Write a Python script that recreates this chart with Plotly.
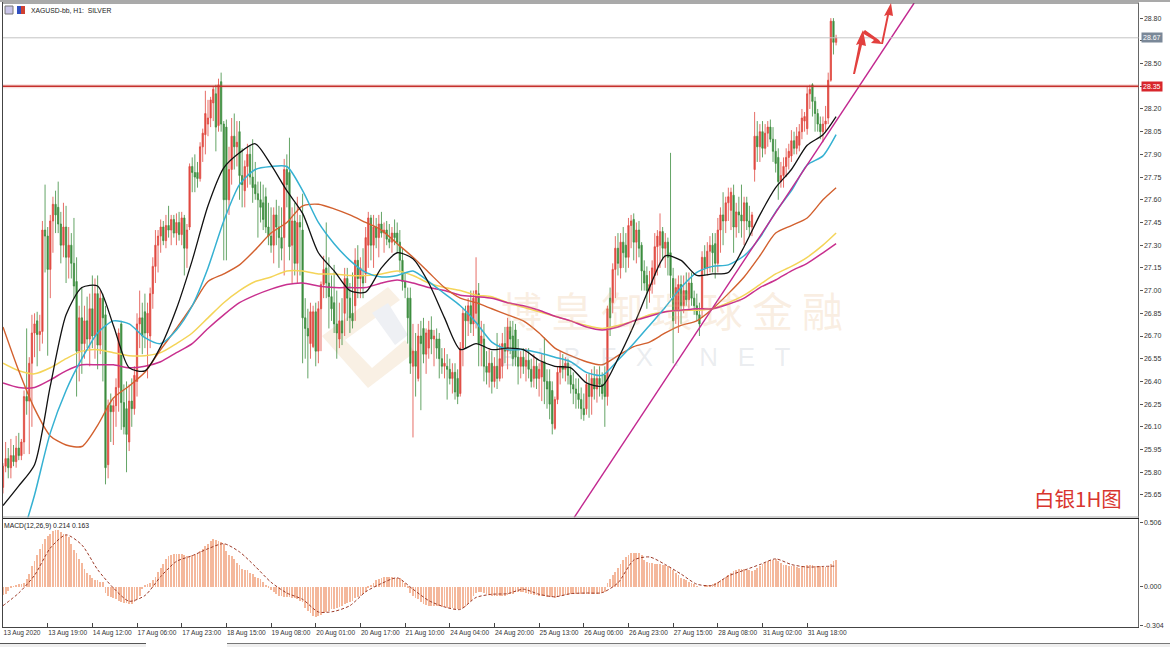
import plotly.graph_objects as go

W, H = 1170, 647
def px(x): return x / W
def py(y): return 1 - y / H

opens = [25.70,25.84,25.89,25.83,25.91,25.87,25.96,25.91,26.00,26.30,
26.27,26.52,26.72,26.80,26.71,26.73,27.40,27.36,27.14,27.46,
27.57,27.55,27.44,27.30,27.42,27.22,27.30,27.18,27.06,26.60,
26.82,26.65,26.80,26.68,26.88,26.70,26.98,26.64,26.95,26.84,
25.85,26.24,26.20,26.24,26.36,26.78,26.26,26.22,26.00,26.27,
26.22,26.40,26.78,26.82,26.86,26.72,26.70,26.98,27.16,27.30,
27.36,27.42,27.33,27.43,27.40,27.47,27.38,27.45,27.37,27.48,
27.28,27.42,27.82,27.78,27.78,27.74,27.95,28.03,28.10,28.14,
28.24,28.30,28.09,28.38,28.10,28.08,27.60,27.80,28.02,27.95,
28.05,27.76,27.66,27.82,27.90,27.75,27.70,27.64,27.60,27.58,
27.62,27.42,27.36,27.30,27.50,27.42,27.35,27.35,27.80,27.78,
27.30,27.46,27.18,27.45,27.40,26.82,26.75,26.65,26.63,26.86,
26.60,26.88,27.04,27.15,27.05,26.96,26.92,26.78,26.68,26.80,
26.85,27.08,26.95,26.85,26.90,27.20,27.08,27.10,27.11,27.30,
27.48,27.30,27.42,27.35,27.44,27.38,27.40,27.34,27.32,27.38,
27.38,27.32,27.20,27.06,26.95,26.95,26.50,26.60,26.42,26.70,
26.75,26.58,26.62,26.74,26.68,26.68,26.68,26.55,26.50,26.50,
26.48,26.42,26.46,26.42,26.32,26.62,26.85,26.80,26.90,26.78,
26.85,26.98,26.65,26.68,26.50,26.46,26.52,26.40,26.50,26.42,
26.50,26.65,26.60,26.76,26.70,26.74,26.56,26.50,26.56,26.50,
26.54,26.48,26.42,26.50,26.42,26.43,26.53,26.40,26.40,26.34,
26.09,26.28,26.46,26.50,26.48,26.52,26.44,26.38,26.35,26.32,
26.28,26.22,26.22,26.38,26.30,26.42,26.35,26.42,26.38,26.44,
26.30,26.95,26.92,27.14,27.28,27.15,27.32,27.30,27.22,27.43,
27.47,27.32,27.40,27.30,27.13,27.10,27.00,27.04,27.10,27.29,
27.30,27.39,27.28,27.32,27.25,27.08,26.87,26.87,27.04,26.90,
27.00,26.94,27.05,26.95,26.90,26.84,26.88,27.22,27.15,27.26,
27.30,27.31,27.18,27.40,27.50,27.46,27.58,27.53,27.63,27.42,
27.52,27.50,27.46,27.58,27.46,27.42,27.80,28.02,27.95,28.05,
27.94,28.04,28.08,28.00,27.92,27.88,27.72,27.76,27.82,27.88,
27.89,27.99,27.94,27.96,28.05,28.12,28.07,28.30,28.36,28.25,
28.17,28.10,28.05,28.10,28.14,28.39,28.78,28.64]

highs = [25.86,26.00,25.96,26.02,25.98,26.04,26.06,26.02,26.34,26.75,
26.56,26.84,26.85,26.86,26.84,27.46,27.70,27.42,27.50,27.62,
27.66,27.72,27.52,27.58,27.56,27.42,27.38,27.48,27.22,26.90,
27.02,26.90,26.96,26.98,27.10,27.08,27.10,27.00,26.98,26.90,
26.28,26.32,26.28,26.42,26.75,26.80,26.38,26.40,26.38,26.42,
26.50,26.85,27.00,26.92,26.98,26.92,27.02,27.22,27.40,27.40,
27.47,27.46,27.50,27.56,27.50,27.50,27.51,27.52,27.52,27.50,
27.44,27.84,27.88,27.90,27.85,27.98,28.07,28.32,28.26,28.28,
28.35,28.36,28.40,28.44,28.12,28.13,27.95,28.14,28.17,28.12,
28.12,27.94,27.86,27.97,27.96,28.00,27.85,27.72,27.72,27.70,
27.68,27.58,27.55,27.55,27.60,27.56,27.55,27.87,27.90,28.01,
27.55,27.58,27.62,27.50,27.64,26.95,26.88,26.92,26.90,26.92,
26.93,27.06,27.23,27.45,27.22,27.10,27.17,27.00,26.92,26.95,
27.15,27.15,27.05,27.12,27.28,27.30,27.22,27.28,27.42,27.52,
27.50,27.50,27.48,27.50,27.52,27.45,27.46,27.44,27.42,27.47,
27.45,27.40,27.28,27.12,27.02,27.02,26.78,26.72,26.78,26.80,
26.82,26.75,26.80,26.83,26.74,26.75,26.72,26.62,26.62,26.58,
26.55,26.52,26.52,26.48,26.66,26.88,26.90,26.95,27.00,27.00,
27.22,27.05,26.80,26.78,26.60,26.62,26.60,26.56,26.72,26.65,
26.72,26.76,26.82,26.80,26.80,26.78,26.68,26.60,26.62,26.62,
26.62,26.55,26.58,26.55,26.52,26.58,26.69,26.48,26.48,26.40,
26.30,26.50,26.60,26.58,26.56,26.55,26.50,26.46,26.42,26.42,
26.36,26.32,26.45,26.45,26.48,26.50,26.48,26.50,26.46,26.50,
26.90,27.02,27.18,27.36,27.38,27.38,27.42,27.38,27.48,27.50,
27.51,27.45,27.46,27.32,27.20,27.16,27.13,27.20,27.38,27.40,
27.51,27.42,27.38,27.35,27.91,27.15,27.08,27.10,27.10,27.10,
27.12,27.12,27.12,27.00,26.98,26.92,27.26,27.30,27.32,27.36,
27.38,27.38,27.48,27.55,27.65,27.62,27.68,27.68,27.70,27.58,
27.62,27.70,27.62,27.62,27.56,27.52,28.18,28.12,28.10,28.12,
28.10,28.12,28.13,28.08,28.00,27.94,27.85,27.88,27.94,27.97,
28.06,28.05,28.08,28.10,28.20,28.18,28.35,28.36,28.37,28.28,
28.20,28.15,28.15,28.22,28.44,28.80,28.80,28.69]

lows = [25.66,25.80,25.76,25.76,25.84,25.83,25.88,25.88,25.92,26.18,
25.92,26.10,26.56,26.50,26.60,26.65,27.12,26.57,26.95,27.25,
27.38,27.38,27.18,27.22,27.05,27.08,27.08,26.95,26.30,26.40,
26.45,26.55,26.62,26.50,26.62,26.55,26.48,26.58,26.40,25.72,
25.76,26.00,25.98,26.10,26.20,26.08,26.05,25.80,25.94,26.10,
26.18,26.30,26.62,26.58,26.62,26.42,26.62,26.88,27.05,27.12,
27.25,27.30,27.28,27.35,27.30,27.35,27.30,27.33,27.30,27.10,
27.15,27.40,27.65,27.65,27.68,27.72,27.85,27.90,28.02,28.08,
28.12,27.92,28.05,28.05,27.20,27.20,27.50,27.70,27.80,27.82,
27.60,27.55,27.55,27.68,27.70,27.58,27.60,27.35,27.45,27.40,
27.38,27.30,27.25,27.18,27.30,27.15,27.20,27.10,27.55,27.20,
27.05,27.10,27.05,27.10,26.52,26.55,26.42,26.55,26.62,26.50,
26.52,26.60,26.95,26.95,26.75,26.80,26.72,26.55,26.62,26.64,
26.70,26.80,26.72,26.75,26.80,26.95,26.95,26.95,27.05,27.15,
27.20,27.15,27.28,27.22,27.35,27.25,27.30,27.28,27.25,27.30,
27.25,27.12,27.00,26.95,26.65,26.45,26.03,26.30,26.40,26.21,
26.52,26.45,26.55,26.58,26.50,26.55,26.42,26.45,26.42,26.28,
26.38,26.32,26.28,26.25,26.30,26.50,26.62,26.70,26.72,26.70,
26.75,26.50,26.50,26.40,26.38,26.36,26.32,26.36,26.35,26.40,
26.42,26.52,26.48,26.58,26.50,26.50,26.38,26.42,26.45,26.40,
26.42,26.36,26.36,26.35,26.30,26.27,26.25,26.22,26.15,26.05,
26.08,26.25,26.38,26.42,26.40,26.38,26.32,26.25,26.22,26.22,
26.15,26.14,26.18,26.16,26.18,26.28,26.26,26.30,26.28,26.10,
26.24,26.70,26.85,26.95,27.10,27.08,27.15,27.12,27.15,27.28,
27.20,27.18,27.22,27.00,27.00,26.88,26.92,26.98,27.04,27.10,
27.15,27.20,27.15,27.10,26.95,26.52,26.78,26.72,26.78,26.85,
26.90,26.88,26.90,26.84,26.80,26.70,26.82,27.10,27.10,27.12,
27.12,27.08,27.12,27.25,27.30,27.38,27.46,27.40,27.25,27.35,
27.38,27.35,27.30,27.40,27.36,27.36,27.72,27.85,27.85,27.88,
27.90,27.95,27.98,27.85,27.78,27.60,27.68,27.68,27.75,27.80,
27.85,27.90,27.90,27.92,28.00,28.05,28.03,28.20,28.15,28.05,
28.05,28.00,27.98,28.05,28.10,28.38,28.56,28.62]

closes = [25.84,25.89,25.83,25.91,25.87,25.96,25.91,26.00,26.30,26.27,
26.52,26.72,26.78,26.71,26.73,27.40,27.36,27.14,27.46,27.57,
27.50,27.44,27.30,27.42,27.22,27.30,27.18,27.03,26.60,26.82,
26.65,26.80,26.68,26.88,26.70,26.98,26.64,26.95,26.82,25.83,
26.24,26.20,26.24,26.36,26.72,26.26,26.10,26.05,26.27,26.22,
26.44,26.78,26.82,26.70,26.72,26.85,26.98,27.16,27.30,27.36,
27.42,27.33,27.43,27.40,27.47,27.38,27.45,27.37,27.48,27.28,
27.40,27.82,27.78,27.75,27.74,27.95,28.04,28.17,28.14,28.26,
28.33,28.08,28.36,28.10,27.60,27.60,27.80,28.02,27.95,27.98,
27.76,27.70,27.82,27.90,27.75,27.68,27.64,27.60,27.55,27.47,
27.42,27.36,27.30,27.50,27.42,27.35,27.28,27.80,27.70,27.29,
27.46,27.18,27.45,27.42,26.82,26.75,26.70,26.86,26.86,26.60,
26.88,27.04,27.14,27.05,26.96,26.88,26.78,26.72,26.80,26.72,
27.08,26.95,26.82,26.80,27.20,27.08,27.15,27.05,27.35,27.48,
27.30,27.42,27.35,27.44,27.38,27.40,27.34,27.32,27.38,27.35,
27.32,27.20,27.06,27.02,26.82,26.52,26.60,26.50,26.70,26.65,
26.58,26.72,26.74,26.68,26.70,26.62,26.55,26.50,26.52,26.48,
26.42,26.46,26.33,26.30,26.62,26.85,26.80,26.90,26.78,26.95,
27.00,26.65,26.70,26.50,26.46,26.52,26.40,26.50,26.42,26.55,
26.65,26.60,26.76,26.68,26.55,26.56,26.50,26.56,26.50,26.54,
26.48,26.40,26.50,26.42,26.48,26.53,26.40,26.35,26.25,26.12,
26.28,26.46,26.50,26.48,26.52,26.44,26.38,26.35,26.32,26.28,
26.22,26.18,26.38,26.30,26.42,26.35,26.42,26.38,26.32,26.30,
26.88,26.82,27.14,27.28,27.18,27.32,27.25,27.22,27.43,27.46,
27.32,27.40,27.28,27.13,27.05,27.00,27.04,27.15,27.29,27.36,
27.39,27.28,27.32,27.22,27.10,26.80,27.02,27.04,26.90,27.00,
26.94,27.05,26.95,26.90,26.84,26.78,27.22,27.15,27.26,27.30,
27.25,27.18,27.40,27.50,27.46,27.58,27.62,27.65,27.42,27.52,
27.50,27.46,27.58,27.46,27.42,27.50,28.02,27.95,28.05,27.94,
28.04,28.08,28.00,27.92,27.84,27.72,27.76,27.82,27.88,27.92,
27.99,27.94,28.02,28.05,28.14,28.15,28.30,28.33,28.25,28.17,
28.10,28.05,28.10,28.12,28.39,28.78,28.64,28.67]

ma_x = list(range(0, 313, 6)) + [317]
ma_black = [25.58,25.71,25.85,26.37,26.84,27.02,27.03,26.77,26.49,26.47,26.63,26.88,27.20,27.56,27.81,27.91,27.97,27.83,27.66,27.51,27.25,27.13,27.00,26.99,27.15,27.25,27.21,27.05,26.82,26.61,26.65,26.61,26.62,26.61,26.54,26.50,26.49,26.39,26.37,26.55,26.77,27.02,27.23,27.20,27.10,27.11,27.12,27.29,27.50,27.68,27.80,27.96,28.03,28.15]
ma_cyan = [None,25.30,25.65,26.06,26.34,26.55,26.72,26.80,26.78,26.69,26.65,26.74,26.90,27.15,27.46,27.70,27.80,27.82,27.82,27.66,27.45,27.31,27.20,27.12,27.09,27.10,27.13,27.06,26.98,26.90,26.79,26.66,26.61,26.61,26.59,26.56,26.53,26.46,26.44,26.54,26.65,26.77,26.89,27.02,27.12,27.16,27.17,27.23,27.35,27.52,27.66,27.83,27.89,28.03]
ma_orange = [26.76,26.47,26.22,26.04,25.98,25.97,26.11,26.29,26.37,26.46,26.61,26.75,26.90,27.06,27.11,27.17,27.27,27.38,27.45,27.56,27.57,27.54,27.50,27.45,27.40,27.31,27.22,27.12,27.02,26.95,26.92,26.88,26.84,26.80,26.72,26.62,26.57,26.53,26.51,26.57,26.63,26.66,26.72,26.77,26.80,26.88,26.98,27.09,27.23,27.38,27.43,27.48,27.60,27.68]
ma_yellow = [26.52,26.47,26.45,26.49,26.55,26.60,26.61,26.59,26.57,26.57,26.59,26.65,26.72,26.82,26.92,27.00,27.06,27.09,27.13,27.13,27.11,27.11,27.10,27.10,27.11,27.13,27.10,27.05,27.02,27.00,26.97,26.96,26.92,26.89,26.86,26.83,26.80,26.77,26.75,26.77,26.80,26.84,26.86,26.87,26.87,26.88,26.92,26.97,27.04,27.11,27.16,27.22,27.30,27.38]
ma_magenta = [26.39,26.36,26.36,26.41,26.47,26.51,26.51,26.51,26.49,26.50,26.53,26.59,26.65,26.75,26.84,26.92,26.97,27.01,27.04,27.05,27.03,27.02,27.02,27.02,27.05,27.07,27.05,27.02,27.00,26.97,26.96,26.95,26.92,26.90,26.87,26.83,26.80,26.76,26.74,26.76,26.80,26.83,26.86,26.87,26.88,26.88,26.91,26.95,27.02,27.07,27.13,27.18,27.25,27.31]

trend_x = [217.3, 346.7]
trend_y = [25.50, 28.90]

macd_hist = [-0.065,-0.055,-0.035,-0.01,0.005,0.01,0.02,0.02,0.03,0.06,
0.10,0.16,0.20,0.25,0.30,0.34,0.38,0.40,0.42,0.44,
0.45,0.445,0.43,0.42,0.41,0.39,0.34,0.29,0.27,0.22,
0.19,0.14,0.11,0.09,0.07,0.05,0.05,0.04,0.04,-0.05,
-0.07,-0.08,-0.09,-0.10,-0.11,-0.12,-0.125,-0.13,-0.14,-0.135,
-0.12,-0.10,-0.07,-0.02,0.01,0.02,0.03,0.05,0.08,0.12,
0.15,0.18,0.22,0.24,0.25,0.255,0.26,0.26,0.255,0.25,
0.245,0.245,0.25,0.26,0.27,0.28,0.30,0.32,0.34,0.36,
0.375,0.37,0.36,0.35,0.335,0.28,0.25,0.24,0.22,0.19,
0.17,0.14,0.135,0.13,0.11,0.10,0.08,0.07,0.06,0.04,
0.015,-0.01,-0.03,-0.045,-0.06,-0.07,-0.075,-0.08,-0.08,-0.085,
-0.09,-0.09,-0.095,-0.11,-0.12,-0.17,-0.19,-0.21,-0.235,-0.24,
-0.235,-0.225,-0.21,-0.20,-0.19,-0.18,-0.175,-0.17,-0.16,-0.15,
-0.14,-0.13,-0.12,-0.11,-0.09,-0.08,-0.07,-0.06,-0.04,-0.01,
0.01,0.03,0.05,0.06,0.07,0.075,0.075,0.08,0.075,0.07,
0.07,0.065,0.05,0.03,-0.01,-0.05,-0.07,-0.09,-0.10,-0.12,
-0.14,-0.145,-0.15,-0.15,-0.155,-0.155,-0.155,-0.16,-0.16,-0.165,
-0.165,-0.17,-0.175,-0.175,-0.18,-0.17,-0.16,-0.14,-0.11,-0.07,
-0.05,-0.04,-0.045,-0.05,-0.06,-0.065,-0.07,-0.075,-0.07,-0.07,
-0.07,-0.07,-0.065,-0.06,-0.055,-0.045,-0.04,-0.04,-0.04,-0.05,
-0.055,-0.06,-0.065,-0.065,-0.07,-0.07,-0.075,-0.08,-0.08,-0.085,
-0.09,-0.08,-0.07,-0.07,-0.065,-0.065,-0.06,-0.06,-0.055,-0.06,
-0.06,-0.06,-0.06,-0.06,-0.06,-0.06,-0.06,-0.055,-0.05,-0.045,
0.03,0.06,0.09,0.12,0.15,0.18,0.21,0.235,0.25,0.265,
0.27,0.27,0.265,0.25,0.21,0.195,0.19,0.185,0.18,0.18,
0.18,0.175,0.17,0.16,0.15,0.135,0.11,0.09,0.07,0.06,
0.05,0.04,0.03,0.02,0.005,0.0,0.0,0.01,0.01,0.01,
0.02,0.03,0.04,0.05,0.06,0.075,0.09,0.11,0.125,0.135,
0.14,0.14,0.14,0.135,0.13,0.125,0.13,0.15,0.165,0.18,
0.19,0.20,0.21,0.21,0.215,0.205,0.19,0.175,0.17,0.165,
0.16,0.16,0.155,0.15,0.16,0.165,0.17,0.175,0.17,0.165,
0.16,0.16,0.155,0.155,0.155,0.18,0.20,0.214]

macd_signal = [-0.15,-0.05,0.09,0.305,0.41,0.33,0.135,-0.01,-0.115,-0.07,0.08,0.20,0.245,0.30,0.34,0.275,0.16,0.035,-0.05,-0.10,-0.20,-0.195,-0.15,-0.04,0.025,0.07,-0.02,
-0.11,-0.16,-0.18,-0.085,-0.06,-0.055,-0.02,-0.06,-0.08,-0.055,-0.05,-0.047,0.03,0.21,0.235,0.175,0.10,0.02,0.01,0.085,0.13,0.175,0.22,0.175,0.155,0.16,0.163]

price_ticks = [28.80,28.65,28.50,28.35,28.20,28.05,27.90,27.75,27.60,27.45,27.30,27.15,27.00,26.85,26.70,26.55,26.40,26.25,26.10,25.95,25.80,25.65]
covered_price_ticks = [28.65, 28.35]
macd_ticks = [0.506,0.0,-0.304]
macd_tick_text = ["0.506","0.000","-0.304"]
time_ticks = [0,17,34,51,68,85,102,119,136,153,170,187,204,221,238,255,272,289,306]
time_labels = ["13 Aug 2020","13 Aug 19:00","14 Aug 12:00","17 Aug 06:00","17 Aug 23:00","18 Aug 15:00","19 Aug 08:00","20 Aug 01:00","20 Aug 17:00","21 Aug 10:00","24 Aug 04:00","24 Aug 20:00","25 Aug 13:00","26 Aug 06:00","26 Aug 23:00","27 Aug 15:00","28 Aug 08:00","31 Aug 02:00","31 Aug 18:00"]
resistance = 28.35
last_price = 28.67

n = len(closes)
bars_x = list(range(n))

UP, DOWN = "#dc2a20", "#1c7a1e"
FONT = "Liberation Sans"
fig = go.Figure()
fig.add_trace(go.Candlestick(x=bars_x, open=opens, high=highs, low=lows, close=closes,
    increasing=dict(line=dict(color=UP, width=0.8), fillcolor=UP),
    decreasing=dict(line=dict(color=DOWN, width=0.8), fillcolor=DOWN),
    whiskerwidth=0, opacity=0.85, hoverinfo="skip", showlegend=False))
for vals, col, w in [(ma_yellow,"#f4d458",1.5),(ma_magenta,"#c8308e",1.5),(ma_orange,"#d2602e",1.4),(ma_cyan,"#35b1d2",1.5),(ma_black,"#111111",1.3)]:
    fig.add_trace(go.Scatter(x=ma_x, y=vals, mode="lines", line=dict(color=col, width=w, shape="spline", smoothing=0.7), hoverinfo="skip", showlegend=False))
fig.add_trace(go.Scatter(x=trend_x, y=trend_y, mode="lines", line=dict(color="#c2278f", width=1.4), hoverinfo="skip", showlegend=False))
fig.add_trace(go.Bar(x=bars_x, y=macd_hist, yaxis="y2", width=0.3, marker=dict(color="#f4b89c", line=dict(width=0)), hoverinfo="skip", showlegend=False))
fig.add_trace(go.Scatter(x=ma_x, y=macd_signal, yaxis="y2", mode="lines", line=dict(color="#9c3a28", width=1, dash="3px,2px", shape="spline", smoothing=0.7), hoverinfo="skip", showlegend=False))

def rect(x0, y0, x1, y1, fill, line=None, layer="above"):
    return dict(type="rect", xref="paper", yref="paper", x0=px(x0), x1=px(x1), y0=py(y0), y1=py(y1),
                fillcolor=fill, line=dict(width=0 if line is None else 1, color=line or fill), layer=layer)
def hline(y, x0, x1, col, w):
    return dict(type="line", xref="paper", yref="paper", x0=px(x0), x1=px(x1), y0=py(y), y1=py(y), line=dict(color=col, width=w))
def vline(x, y0, y1, col, w):
    return dict(type="line", xref="paper", yref="paper", x0=px(x), x1=px(x), y0=py(y0), y1=py(y1), line=dict(color=col, width=w))
def poly(pts, fill, layer="above"):
    d = "M " + " L ".join(f"{px(a):.5f} {py(b):.5f}" for a, b in pts) + " Z"
    return dict(type="path", xref="paper", yref="paper", path=d, fillcolor=fill, line=dict(width=0), layer=layer)

x0p, x1p = px(3), px(1138.5)
shapes = [
    rect(0, 0, W, 2, "#a9a9a9"),
    vline(2.5, 2, 628, "#444444", 1),
    hline(3, 3, 1139, "#555555", 1),
    vline(1138.5, 3, 628, "#666666", 1),
    hline(517, 3, 1139, "#a8a8a8", 1),
    hline(518.5, 3, 1139, "#222222", 1.2),
    hline(627.5, 3, 1139, "#444444", 1),
    hline(643.5, 0, 146, "#555555", 1),
    hline(643.5, 227, W, "#777777", 1),
    rect(0, 644, W, H, "#efefef"),
    rect(146, 644, 227, H, "#ffffff"),
    dict(type="line", xref="paper", yref="y", x0=x0p, x1=x1p, y0=last_price, y1=last_price, line=dict(color="#c4c4c4", width=1)),
    dict(type="line", xref="paper", yref="y", x0=x0p, x1=x1p, y0=resistance, y1=resistance, line=dict(color="rgba(210,60,50,0.18)", width=4)),
    dict(type="line", xref="paper", yref="y", x0=x0p, x1=x1p, y0=resistance, y1=resistance, line=dict(color="#c5302c", width=1.5)),
    poly([(322,336),(388,287),(400,300),(345,340),(372,368),(405,340),(415,352),(368,388)], "#f9f0e4", "below"),
    poly([(372,313),(388,303),(408,335),(395,345)], "#eef0f4", "below"),
    poly([(853,74),(859,44),(856,45),(863,30),(866,46),(862,45),(855,74)], "#e2403e"),
    poly([(862,33),(865,30),(879,40),(882,44),(871,43),(874,40)], "#e2403e"),
    poly([(881,44),(887,15),(884,16),(891,3),(893,16),(889,15),(883,44)], "#e2403e"),
    rect(5, 6, 13, 14, "#c9c4e8", "#777777"),
    rect(17, 6, 21, 14, "#3050c0"),
    rect(21, 6, 25, 14, "#d04030"),
]

def note(x, y, text, size=6.8, color="#222222", anchor="left", family=FONT, **kw):
    return dict(xref="paper", yref="paper", x=px(x), y=py(y), text=text, showarrow=False, xanchor=anchor, yanchor="middle",
                font=dict(size=size, color=color, family=family), **kw)

annotations = [
    note(29, 10, "XAGUSD-bb, H1:  SILVER"),
    note(2, 525.5, "MACD(12,26,9) 0.214 0.163"),
    note(1032, 498, "白银1H图", size=20.5, color="#d8352e", family="Noto Sans CJK SC"),
    note(672, 309, "博 皇 御 環 球 金 融", size=41, color="rgba(232,180,125,0.22)", anchor="center", family="Noto Sans CJK SC"),
    note(645, 357, "\u2002\u2005".join("BIBFX.NET"), size=26, color="rgba(150,160,175,0.20)", anchor="center", family="Liberation Sans"),
    dict(xref="paper", yref="y", x=px(1140.5), y=last_price, text="28.67", showarrow=False, xanchor="left", yanchor="middle",
         font=dict(size=7, color="#ffffff", family=FONT), bgcolor="#7a8898", borderpad=1),
    dict(xref="paper", yref="y", x=px(1140.5), y=resistance, text="28.35", showarrow=False, xanchor="left", yanchor="middle",
         font=dict(size=7, color="#ffffff", family=FONT), bgcolor="#d8262c", borderpad=1),
]

tickfont = dict(size=7, family=FONT, color="#333333")
xtickfont = dict(size=6.6, family=FONT, color="#333333")
fig.update_layout(
    width=W, height=H, autosize=False, margin=dict(l=0, r=0, t=0, b=0, autoexpand=False),
    paper_bgcolor="#ffffff", plot_bgcolor="rgba(255,255,255,0)", showlegend=False, bargap=0,
    font=dict(family=FONT, size=7, color="#333333"),
    xaxis=dict(domain=[x0p, x1p], range=[0, 432.07], anchor="y2", rangeslider=dict(visible=False), automargin=False,
               tickmode="array", tickvals=time_ticks, ticktext=time_labels, tickangle=0, ticks="inside", ticklen=4, tickcolor="#444444",
               ticklabelposition="outside right", ticklabelstandoff=0, showgrid=False, zeroline=False, showline=False, tickfont=xtickfont),
    yaxis=dict(domain=[py(517.5), py(3)], range=[25.501, 28.90], side="right", anchor="x", tickmode="array", automargin=False,
               tickvals=price_ticks, ticktext=["" if v in covered_price_ticks else f"{v:.2f}" for v in price_ticks], ticks="outside", ticklen=3, tickcolor="#555555",
               showgrid=False, zeroline=False, showline=False, tickfont=tickfont),
    yaxis2=dict(domain=[py(627.3), py(519)], range=[-0.321, 0.535], side="right", anchor="x", tickmode="array", automargin=False,
                tickvals=macd_ticks, ticktext=macd_tick_text, ticks="outside", ticklen=3, tickcolor="#555555",
                showgrid=False, zeroline=False, showline=False, tickfont=tickfont),
    shapes=shapes, annotations=annotations,
)
fig.write_html("out.html", config=dict(displayModeBar=False), post_script="document.body.style.margin='0';")
